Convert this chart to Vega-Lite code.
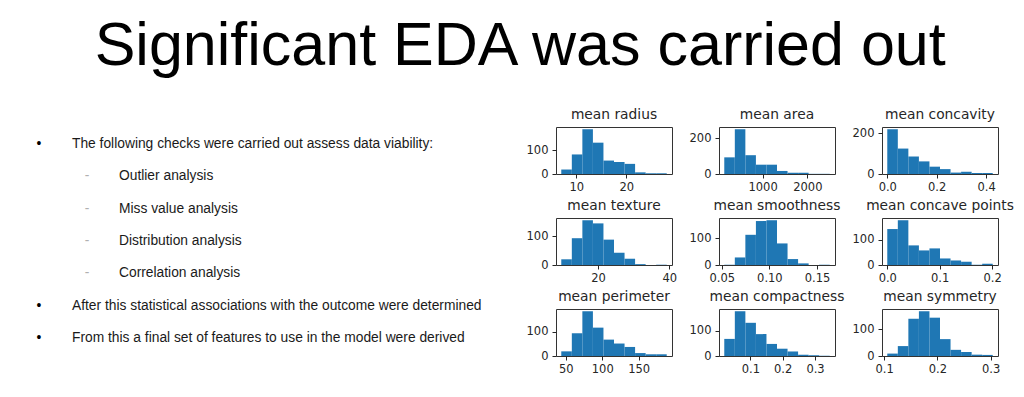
{
  "$schema": "https://vega.github.io/schema/vega-lite/v6.json",
  "background": "white",
  "padding": {"left": 0, "top": 15, "right": 0, "bottom": 0},
  "title": {"text": "Significant EDA was carried out", "font": "Liberation Sans", "fontSize": 61, "fontWeight": "normal", "color": "#000000", "anchor": "middle", "offset": 30, "dx": 13},
  "config": {
    "view": {"stroke": "#333333", "strokeWidth": 1},
    "axis": {"labelFont": "DejaVu Sans", "labelFontSize": 11.5, "labelColor": "#262626", "tickColor": "#262626", "tickSize": 4, "grid": false, "domain": false, "title": null, "labelFlush": false, "labelOverlap": false},
    "axisX": {"labelPadding": 3},
    "axisY": {"labelPadding": 4},
    "title": {"font": "DejaVu Sans", "fontSize": 13.8, "fontWeight": "normal", "color": "#262626", "offset": 5},
    "bar": {"color": "#1f77b4"}
  },
  "datasets": {
    "lines": [
      {"row": 1, "level": 1, "marker": "•", "text": "The following checks were carried out assess data viability:"},
      {"row": 2, "level": 2, "marker": "-", "text": "Outlier analysis"},
      {"row": 3, "level": 2, "marker": "-", "text": "Miss value analysis"},
      {"row": 4, "level": 2, "marker": "-", "text": "Distribution analysis"},
      {"row": 5, "level": 2, "marker": "-", "text": "Correlation analysis"},
      {"row": 6, "level": 1, "marker": "•", "text": "After this statistical associations with the outcome were determined"},
      {"row": 7, "level": 1, "marker": "•", "text": "From this a final set of features to use in the model were derived"}
    ],
    "hist": [
      {"feature": "mean radius", "b0": 6.981, "b1": 9.094, "count": 19},
      {"feature": "mean radius", "b0": 9.094, "b1": 11.207, "count": 83},
      {"feature": "mean radius", "b0": 11.207, "b1": 13.32, "count": 190},
      {"feature": "mean radius", "b0": 13.32, "b1": 15.432, "count": 133},
      {"feature": "mean radius", "b0": 15.432, "b1": 17.546, "count": 57},
      {"feature": "mean radius", "b0": 17.546, "b1": 19.658, "count": 51},
      {"feature": "mean radius", "b0": 19.658, "b1": 21.771, "count": 43},
      {"feature": "mean radius", "b0": 21.771, "b1": 23.884, "count": 7},
      {"feature": "mean radius", "b0": 23.884, "b1": 25.997, "count": 3},
      {"feature": "mean radius", "b0": 25.997, "b1": 28.11, "count": 3},
      {"feature": "mean area", "b0": 143.5, "b1": 379.25, "count": 93},
      {"feature": "mean area", "b0": 379.25, "b1": 615.0, "count": 250},
      {"feature": "mean area", "b0": 615.0, "b1": 850.75, "count": 105},
      {"feature": "mean area", "b0": 850.75, "b1": 1086.5, "count": 52},
      {"feature": "mean area", "b0": 1086.5, "b1": 1322.25, "count": 52},
      {"feature": "mean area", "b0": 1322.25, "b1": 1558.0, "count": 17},
      {"feature": "mean area", "b0": 1558.0, "b1": 1793.75, "count": 7},
      {"feature": "mean area", "b0": 1793.75, "b1": 2029.5, "count": 7},
      {"feature": "mean area", "b0": 2029.5, "b1": 2265.25, "count": 1},
      {"feature": "mean area", "b0": 2265.25, "b1": 2501.0, "count": 1},
      {"feature": "mean concavity", "b0": 0.0, "b1": 0.04268, "count": 220},
      {"feature": "mean concavity", "b0": 0.04268, "b1": 0.08536, "count": 125},
      {"feature": "mean concavity", "b0": 0.08536, "b1": 0.12804, "count": 86},
      {"feature": "mean concavity", "b0": 0.12804, "b1": 0.17072, "count": 62},
      {"feature": "mean concavity", "b0": 0.17072, "b1": 0.2134, "count": 36},
      {"feature": "mean concavity", "b0": 0.2134, "b1": 0.25608, "count": 24},
      {"feature": "mean concavity", "b0": 0.25608, "b1": 0.29876, "count": 7},
      {"feature": "mean concavity", "b0": 0.29876, "b1": 0.34144, "count": 11},
      {"feature": "mean concavity", "b0": 0.34144, "b1": 0.38412, "count": 5},
      {"feature": "mean concavity", "b0": 0.38412, "b1": 0.4268, "count": 5},
      {"feature": "mean texture", "b0": 9.71, "b1": 12.667, "count": 20},
      {"feature": "mean texture", "b0": 12.667, "b1": 15.624, "count": 94},
      {"feature": "mean texture", "b0": 15.624, "b1": 18.581, "count": 157},
      {"feature": "mean texture", "b0": 18.581, "b1": 21.538, "count": 146},
      {"feature": "mean texture", "b0": 21.538, "b1": 24.495, "count": 89},
      {"feature": "mean texture", "b0": 24.495, "b1": 27.452, "count": 43},
      {"feature": "mean texture", "b0": 27.452, "b1": 30.409, "count": 22},
      {"feature": "mean texture", "b0": 30.409, "b1": 33.366, "count": 3},
      {"feature": "mean texture", "b0": 33.366, "b1": 36.323, "count": 0},
      {"feature": "mean texture", "b0": 36.323, "b1": 39.28, "count": 1},
      {"feature": "mean smoothness", "b0": 0.05263, "b1": 0.063707, "count": 1},
      {"feature": "mean smoothness", "b0": 0.063707, "b1": 0.074784, "count": 28},
      {"feature": "mean smoothness", "b0": 0.074784, "b1": 0.085861, "count": 112},
      {"feature": "mean smoothness", "b0": 0.085861, "b1": 0.096938, "count": 163},
      {"feature": "mean smoothness", "b0": 0.096938, "b1": 0.108015, "count": 166},
      {"feature": "mean smoothness", "b0": 0.108015, "b1": 0.119092, "count": 80},
      {"feature": "mean smoothness", "b0": 0.119092, "b1": 0.130169, "count": 22},
      {"feature": "mean smoothness", "b0": 0.130169, "b1": 0.141246, "count": 6},
      {"feature": "mean smoothness", "b0": 0.141246, "b1": 0.152323, "count": 0},
      {"feature": "mean smoothness", "b0": 0.152323, "b1": 0.1634, "count": 1},
      {"feature": "mean concave points", "b0": 0.0, "b1": 0.02012, "count": 143},
      {"feature": "mean concave points", "b0": 0.02012, "b1": 0.04024, "count": 178},
      {"feature": "mean concave points", "b0": 0.04024, "b1": 0.06036, "count": 78},
      {"feature": "mean concave points", "b0": 0.06036, "b1": 0.08048, "count": 58},
      {"feature": "mean concave points", "b0": 0.08048, "b1": 0.1006, "count": 66},
      {"feature": "mean concave points", "b0": 0.1006, "b1": 0.12072, "count": 26},
      {"feature": "mean concave points", "b0": 0.12072, "b1": 0.14084, "count": 18},
      {"feature": "mean concave points", "b0": 0.14084, "b1": 0.16096, "count": 13},
      {"feature": "mean concave points", "b0": 0.16096, "b1": 0.18108, "count": 1},
      {"feature": "mean concave points", "b0": 0.18108, "b1": 0.2012, "count": 5},
      {"feature": "mean perimeter", "b0": 43.79, "b1": 58.26, "count": 19},
      {"feature": "mean perimeter", "b0": 58.26, "b1": 72.73, "count": 93},
      {"feature": "mean perimeter", "b0": 72.73, "b1": 87.2, "count": 183},
      {"feature": "mean perimeter", "b0": 87.2, "b1": 101.68, "count": 116},
      {"feature": "mean perimeter", "b0": 101.68, "b1": 116.15, "count": 67},
      {"feature": "mean perimeter", "b0": 116.15, "b1": 130.62, "count": 51},
      {"feature": "mean perimeter", "b0": 130.62, "b1": 145.09, "count": 37},
      {"feature": "mean perimeter", "b0": 145.09, "b1": 159.56, "count": 12},
      {"feature": "mean perimeter", "b0": 159.56, "b1": 174.03, "count": 7},
      {"feature": "mean perimeter", "b0": 174.03, "b1": 188.5, "count": 7},
      {"feature": "mean compactness", "b0": 0.01938, "b1": 0.052, "count": 68},
      {"feature": "mean compactness", "b0": 0.052, "b1": 0.08462, "count": 178},
      {"feature": "mean compactness", "b0": 0.08462, "b1": 0.11722, "count": 132},
      {"feature": "mean compactness", "b0": 0.11722, "b1": 0.14983, "count": 87},
      {"feature": "mean compactness", "b0": 0.14983, "b1": 0.18239, "count": 48},
      {"feature": "mean compactness", "b0": 0.18239, "b1": 0.215, "count": 29},
      {"feature": "mean compactness", "b0": 0.215, "b1": 0.2476, "count": 18},
      {"feature": "mean compactness", "b0": 0.2476, "b1": 0.2802, "count": 5},
      {"feature": "mean compactness", "b0": 0.2802, "b1": 0.3128, "count": 3},
      {"feature": "mean compactness", "b0": 0.3128, "b1": 0.3454, "count": 1},
      {"feature": "mean symmetry", "b0": 0.106, "b1": 0.1258, "count": 9},
      {"feature": "mean symmetry", "b0": 0.1258, "b1": 0.1456, "count": 37},
      {"feature": "mean symmetry", "b0": 0.1456, "b1": 0.1654, "count": 139},
      {"feature": "mean symmetry", "b0": 0.1654, "b1": 0.1852, "count": 167},
      {"feature": "mean symmetry", "b0": 0.1852, "b1": 0.205, "count": 143},
      {"feature": "mean symmetry", "b0": 0.205, "b1": 0.2248, "count": 63},
      {"feature": "mean symmetry", "b0": 0.2248, "b1": 0.2446, "count": 23},
      {"feature": "mean symmetry", "b0": 0.2446, "b1": 0.2644, "count": 15},
      {"feature": "mean symmetry", "b0": 0.2644, "b1": 0.2842, "count": 5},
      {"feature": "mean symmetry", "b0": 0.2842, "b1": 0.304, "count": 4}
    ]
  },
  "bounds": "flush",
  "spacing": 56,
  "hconcat": [
    {
      "width": 500,
      "height": 228,
      "view": {"stroke": null},
      "data": {"name": "lines"},
      "layer": [
        {
          "mark": {"type": "text", "align": "center", "baseline": "middle", "font": "Liberation Sans", "fontSize": 13.8},
          "encoding": {
            "y": {"field": "row", "type": "ordinal", "scale": {"type": "point", "padding": 0.53}, "axis": null},
            "x": {"field": "level", "type": "ordinal", "scale": {"type": "point", "range": [39, 87], "padding": 0}, "axis": null},
            "text": {"field": "marker"},
            "color": {"field": "level", "type": "ordinal", "scale": {"domain": [1, 2], "range": ["#000000", "#b0b0b0"]}, "legend": null}
          }
        },
        {
          "mark": {"type": "text", "align": "left", "baseline": "middle", "font": "Liberation Sans", "fontSize": 13.8, "color": "#1a1a1a"},
          "encoding": {
            "y": {"field": "row", "type": "ordinal", "scale": {"type": "point", "padding": 0.53}, "axis": null},
            "x": {"field": "level", "type": "ordinal", "scale": {"type": "point", "range": [72, 119], "padding": 0}, "axis": null},
            "text": {"field": "text"}
          }
        }
      ],
      "resolve": {"scale": {"x": "independent", "color": "independent"}}
    },
    {
      "columns": 3,
      "bounds": "flush",
      "spacing": {"row": 44, "column": 47},
      "concat": [
        {
          "title": "mean radius", "width": 116, "height": 47,
          "data": {"name": "hist"},
          "transform": [{"filter": "datum.feature === 'mean radius'"}],
          "mark": "bar",
          "encoding": {
            "x": {"field": "b0", "type": "quantitative", "scale": {"domain": [5.925, 29.166], "nice": false, "zero": false}, "axis": {"values": [10, 20], "format": "d"}},
            "x2": {"field": "b1"},
            "y": {"field": "count", "type": "quantitative", "scale": {"domain": [0, 199.5], "nice": false}, "axis": {"values": [0, 100], "format": "d"}},
            "y2": {"datum": 0}
          }
        },
        {
          "title": "mean area", "width": 116, "height": 47,
          "data": {"name": "hist"},
          "transform": [{"filter": "datum.feature === 'mean area'"}],
          "mark": "bar",
          "encoding": {
            "x": {"field": "b0", "type": "quantitative", "scale": {"domain": [25.6, 2618.9], "nice": false, "zero": false}, "axis": {"values": [1000, 2000], "format": "d"}},
            "x2": {"field": "b1"},
            "y": {"field": "count", "type": "quantitative", "scale": {"domain": [0, 262.5], "nice": false}, "axis": {"values": [0, 200], "format": "d"}},
            "y2": {"datum": 0}
          }
        },
        {
          "title": "mean concavity", "width": 116, "height": 47,
          "data": {"name": "hist"},
          "transform": [{"filter": "datum.feature === 'mean concavity'"}],
          "mark": "bar",
          "encoding": {
            "x": {"field": "b0", "type": "quantitative", "scale": {"domain": [-0.02134, 0.44814], "nice": false, "zero": false}, "axis": {"values": [0, 0.2, 0.4], "format": ".1f"}},
            "x2": {"field": "b1"},
            "y": {"field": "count", "type": "quantitative", "scale": {"domain": [0, 231], "nice": false}, "axis": {"values": [0, 200], "format": "d"}},
            "y2": {"datum": 0}
          }
        },
        {
          "title": "mean texture", "width": 116, "height": 47,
          "data": {"name": "hist"},
          "transform": [{"filter": "datum.feature === 'mean texture'"}],
          "mark": "bar",
          "encoding": {
            "x": {"field": "b0", "type": "quantitative", "scale": {"domain": [8.23, 40.76], "nice": false, "zero": false}, "axis": {"values": [20, 40], "format": "d"}},
            "x2": {"field": "b1"},
            "y": {"field": "count", "type": "quantitative", "scale": {"domain": [0, 164.9], "nice": false}, "axis": {"values": [0, 100], "format": "d"}},
            "y2": {"datum": 0}
          }
        },
        {
          "title": "mean smoothness", "width": 116, "height": 47,
          "data": {"name": "hist"},
          "transform": [{"filter": "datum.feature === 'mean smoothness'"}],
          "mark": "bar",
          "encoding": {
            "x": {"field": "b0", "type": "quantitative", "scale": {"domain": [0.04709, 0.16894], "nice": false, "zero": false}, "axis": {"values": [0.05, 0.1, 0.15], "format": ".2f"}},
            "x2": {"field": "b1"},
            "y": {"field": "count", "type": "quantitative", "scale": {"domain": [0, 174.3], "nice": false}, "axis": {"values": [0, 100], "format": "d"}},
            "y2": {"datum": 0}
          }
        },
        {
          "title": "mean concave points", "width": 116, "height": 47,
          "data": {"name": "hist"},
          "transform": [{"filter": "datum.feature === 'mean concave points'"}],
          "mark": "bar",
          "encoding": {
            "x": {"field": "b0", "type": "quantitative", "scale": {"domain": [-0.01006, 0.21126], "nice": false, "zero": false}, "axis": {"values": [0, 0.1, 0.2], "format": ".1f"}},
            "x2": {"field": "b1"},
            "y": {"field": "count", "type": "quantitative", "scale": {"domain": [0, 186.9], "nice": false}, "axis": {"values": [0, 100], "format": "d"}},
            "y2": {"datum": 0}
          }
        },
        {
          "title": "mean perimeter", "width": 116, "height": 47,
          "data": {"name": "hist"},
          "transform": [{"filter": "datum.feature === 'mean perimeter'"}],
          "mark": "bar",
          "encoding": {
            "x": {"field": "b0", "type": "quantitative", "scale": {"domain": [36.55, 195.74], "nice": false, "zero": false}, "axis": {"values": [50, 100, 150], "format": "d"}},
            "x2": {"field": "b1"},
            "y": {"field": "count", "type": "quantitative", "scale": {"domain": [0, 192.2], "nice": false}, "axis": {"values": [0, 100], "format": "d"}},
            "y2": {"datum": 0}
          }
        },
        {
          "title": "mean compactness", "width": 116, "height": 47,
          "data": {"name": "hist"},
          "transform": [{"filter": "datum.feature === 'mean compactness'"}],
          "mark": "bar",
          "encoding": {
            "x": {"field": "b0", "type": "quantitative", "scale": {"domain": [0.00308, 0.3617], "nice": false, "zero": false}, "axis": {"values": [0.1, 0.2, 0.3], "format": ".1f"}},
            "x2": {"field": "b1"},
            "y": {"field": "count", "type": "quantitative", "scale": {"domain": [0, 186.9], "nice": false}, "axis": {"values": [0, 100], "format": "d"}},
            "y2": {"datum": 0}
          }
        },
        {
          "title": "mean symmetry", "width": 116, "height": 47,
          "data": {"name": "hist"},
          "transform": [{"filter": "datum.feature === 'mean symmetry'"}],
          "mark": "bar",
          "encoding": {
            "x": {"field": "b0", "type": "quantitative", "scale": {"domain": [0.0961, 0.3139], "nice": false, "zero": false}, "axis": {"values": [0.1, 0.2, 0.3], "format": ".1f"}},
            "x2": {"field": "b1"},
            "y": {"field": "count", "type": "quantitative", "scale": {"domain": [0, 175.4], "nice": false}, "axis": {"values": [0, 100], "format": "d"}},
            "y2": {"datum": 0}
          }
        }
      ]
    }
  ]
}
